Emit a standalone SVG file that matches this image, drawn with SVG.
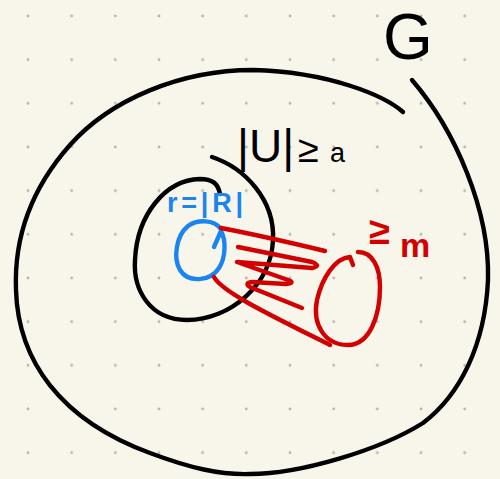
<svg xmlns="http://www.w3.org/2000/svg" width="500" height="479" viewBox="0 0 500 479">
  <style>
    .ink { fill: none; stroke-linecap: round; stroke-linejoin: round; stroke-width: 4.4; }
    .blk { stroke: #000000; }
    .blu { stroke: #1a84f0; }
    .red { stroke: #d20000; }
    .hand { font-family: "Liberation Sans", Arial, sans-serif; }
  </style>
  <defs>
    <pattern id="dots" x="6.167" y="-5.833" width="43.667" height="43.667" patternUnits="userSpaceOnUse">
      <circle cx="21.833" cy="21.833" r="1.4" fill="#b7b5ac"/>
    </pattern>
  </defs>
  <rect width="500" height="479" fill="#f8f6eb"/>
  <rect width="500" height="479" fill="url(#dots)"/>

  <g id="set-G">
    <path class="ink blk" d="M403,112 C385,96 330,72 253,70 C180,70 110,100 70,145 C30,190 14,240 16,290 C18,360 60,420 150,453 C190,468 220,475 250,474 C300,474 380,450 423,423 C460,395 485,345 488,280 C490,210 455,130 412,80"/>
    <text class="hand" x="383" y="59" font-size="64" fill="#000">G</text>
  </g>

  <g id="set-U">
    <path class="ink blk" d="M212,157 C245,168 275,200 273,240 C271,285 230,320 187,320 C150,320 133,290 135,260 C137,215 165,180 200,179 C212,179 218,183 220,194"/>
    <text class="hand" x="237" y="162" font-size="46" fill="#000">|U|<tspan x="298" font-size="38">≥</tspan><tspan x="330" font-size="27">a</tspan></text>
  </g>

  <g id="set-R">
    <path class="ink blu" d="M220,228 C214,220 198,219 188,226 C176,236 173,258 180,270 C188,283 210,282 219,268 C226,257 226,240 221,231 L214,247"/>
    <text class="hand" x="167" y="212" font-size="27" font-weight="bold" fill="#1a84f0" textLength="76" lengthAdjust="spacing">r=|R|</text>
  </g>

  <g id="set-M">
    <path class="ink red" d="M353,265 L350,257 C335,258 322,278 317,300 C312,325 325,345 348,345 C370,345 380,315 380,287 C380,268 373,252 358,252"/>
    <text class="hand" x="369" y="244" font-size="38" font-weight="bold" fill="#d20000">≥<tspan x="400" y="257" font-size="34">m</tspan></text>
  </g>

  <g id="connectors">
    <path class="ink red" d="M221,228 Q263,236 325,251"/>
    <path class="ink red" d="M238,247 L312,262 Q322,266 312,268 L237,262 L288,280 Q296,283 286,284 L252,282 Q244,283 250,287 L302,308"/>
    <path class="ink red" d="M214,277 C222,292 270,315 330,345"/>
  </g>
</svg>
